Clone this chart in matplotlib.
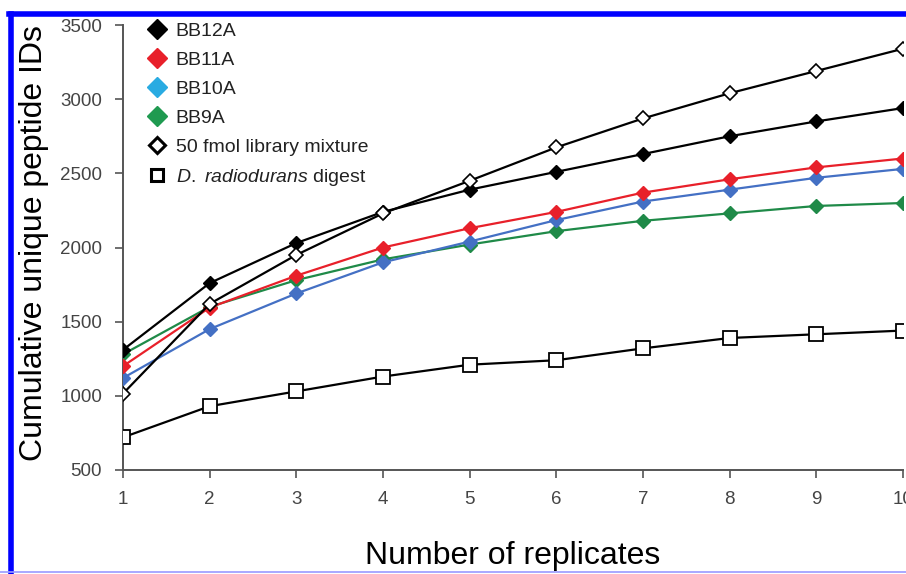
import matplotlib
matplotlib.use("Agg")
import matplotlib.pyplot as plt
from matplotlib.lines import Line2D

plt.rcParams['font.family'] = ['Liberation Sans', 'DejaVu Sans']
plt.rcParams['mathtext.fontset'] = 'custom'
plt.rcParams['mathtext.rm'] = 'Liberation Sans'
plt.rcParams['mathtext.it'] = 'Liberation Sans:italic'

replicates = [1, 2, 3, 4, 5, 6, 7, 8, 9, 10]
bb12a = [1310, 1760, 2030, 2240, 2390, 2510, 2630, 2750, 2850, 2940]
bb11a = [1200, 1595, 1810, 2000, 2130, 2240, 2370, 2460, 2540, 2600]
bb10a = [1120, 1450, 1690, 1900, 2040, 2185, 2310, 2390, 2470, 2530]
bb9a = [1280, 1600, 1780, 1920, 2020, 2110, 2180, 2230, 2280, 2300]
fmol50 = [1015, 1620, 1950, 2230, 2450, 2675, 2870, 3040, 3190, 3340]
drad = [720, 930, 1030, 1130, 1210, 1240, 1320, 1390, 1415, 1440]

labels = ['BB12A', 'BB11A', 'BB10A', 'BB9A', '50 fmol library mixture',
          r'$\mathit{D.\ radiodurans}$ digest']

fig = plt.figure(figsize=(9.06, 5.74), dpi=100)
ax = fig.add_axes([123/906, 104/574, 780/906, 445/574])

ax.plot(replicates, drad, color='black', lw=1.6, marker='s', ms=10,
        mfc='white', mec='black', mew=1.3, zorder=3)
ax.plot(replicates, bb9a, color='#1f8a48', lw=1.6, marker='D', ms=7, zorder=3)
ax.plot(replicates, bb10a, color='#4470c4', lw=1.6, marker='D', ms=7, zorder=3)
ax.plot(replicates, bb11a, color='#e8202a', lw=1.6, marker='D', ms=7, zorder=3)
ax.plot(replicates, bb12a, color='black', lw=1.6, marker='D', ms=7, zorder=4)
ax.plot(replicates, fmol50, color='black', lw=1.6, marker='D', ms=7,
        mfc='white', mec='black', mew=1.2, zorder=5)

ax.set_xlim(1, 10)
ax.set_ylim(500, 3500)
ax.set_xticks(replicates)
ax.set_yticks([500, 1000, 1500, 2000, 2500, 3000, 3500])
for s in ['top', 'right']:
    ax.spines[s].set_visible(False)
for s in ['left', 'bottom']:
    ax.spines[s].set_color('#555555')
    ax.spines[s].set_linewidth(1.4)
ax.tick_params(direction='out', length=6, width=1.2, color='#555555',
               labelsize=13.5, labelcolor='#444444', pad=9)
for t in ax.get_xticklabels() + ax.get_yticklabels():
    t.set_clip_on(False)

ax.set_ylabel('Cumulative unique peptide IDs', fontsize=23)
ax.yaxis.set_label_coords(-0.095, 0.51)
ax.set_xlabel('Number of replicates', fontsize=23, labelpad=24)

handles = [
    Line2D([], [], ls='none', marker='D', ms=10, color='black'),
    Line2D([], [], ls='none', marker='D', ms=10, color='#e8202a'),
    Line2D([], [], ls='none', marker='D', ms=10, color='#29abe2'),
    Line2D([], [], ls='none', marker='D', ms=10, color='#1f9a50'),
    Line2D([], [], ls='none', marker='D', ms=8, mfc='white', mec='black', mew=2.2),
    Line2D([], [], ls='none', marker='s', ms=8, mfc='white', mec='black', mew=2.2),
]
ax.legend(handles, labels, loc='upper left', bbox_to_anchor=(0.009, 1.045),
          frameon=False, fontsize=14, handlelength=1.0, handletextpad=0.45,
          labelspacing=0.58, labelcolor='#222222')

# blue frame around the figure
fig.add_artist(Line2D([11/906, 11/906], [2/574, 560/574], color='#0000ff',
                      lw=4, transform=fig.transFigure))
fig.add_artist(Line2D([9/906, 1.0], [560/574, 560/574], color='#0000ff',
                      lw=4, transform=fig.transFigure))
fig.add_artist(Line2D([0, 1.0], [2/574, 2/574], color='#9a9aff',
                      lw=1.2, transform=fig.transFigure))

fig.savefig('out.png', dpi=100)
